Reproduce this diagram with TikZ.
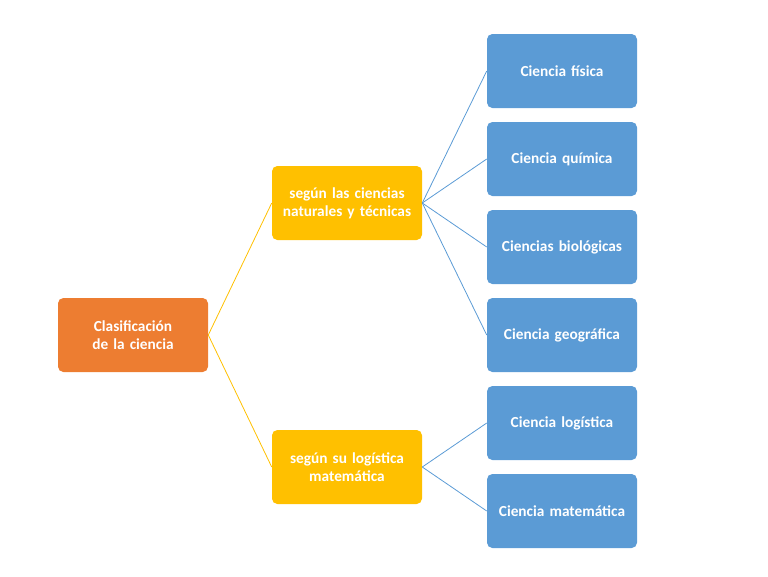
\documentclass[tikz,border=0pt]{standalone}
\usepackage{fontspec}
\setmainfont{Carlito}
\usetikzlibrary{positioning}
\definecolor{rootorange}{HTML}{ED7D31}
\definecolor{midyellow}{HTML}{FFC000}
\definecolor{leafblue}{HTML}{5B9BD5}
\begin{document}
\begin{tikzpicture}[
    x=0.75pt, y=-0.75pt,
    box/.style={rectangle, rounded corners=4pt, draw=none, minimum width=112.5pt, minimum height=55.5pt, text width=102pt, align=center, text=white, font=\bfseries\fontsize{11.5}{13.5}\selectfont},
    rootbox/.style={box, fill=rootorange},
    midbox/.style={box, fill=midyellow},
    leafbox/.style={box, fill=leafblue},
    midline/.style={draw=midyellow, line width=0.6pt},
    leafline/.style={draw=leafblue, line width=0.6pt}
]
\useasboundingbox (0,0) rectangle (768,576);

% Root
\node[rootbox] (root) at (133, 335) {Clasificación de la ciencia};

% Middle level
\node[midbox] (nat) at (347, 203) {según las ciencias naturales y técnicas};
\node[midbox] (mat) at (347, 467) {según su logística matemática};

% Leaves
\node[leafbox] (fis) at (562, 71) {Ciencia física};
\node[leafbox] (qui) at (562, 159) {Ciencia química};
\node[leafbox] (bio) at (562, 247) {Ciencias biológicas};
\node[leafbox] (geo) at (562, 335) {Ciencia geográfica};
\node[leafbox] (log) at (562, 423) {Ciencia logística};
\node[leafbox] (mtc) at (562, 511) {Ciencia matemática};

% Connectors
\draw[midline] (root.east) -- (nat.west);
\draw[midline] (root.east) -- (mat.west);
\foreach \leaf in {fis, qui, bio, geo}
  \draw[leafline] (nat.east) -- (\leaf.west);
\foreach \leaf in {log, mtc}
  \draw[leafline] (mat.east) -- (\leaf.west);

\end{tikzpicture}
\end{document}
